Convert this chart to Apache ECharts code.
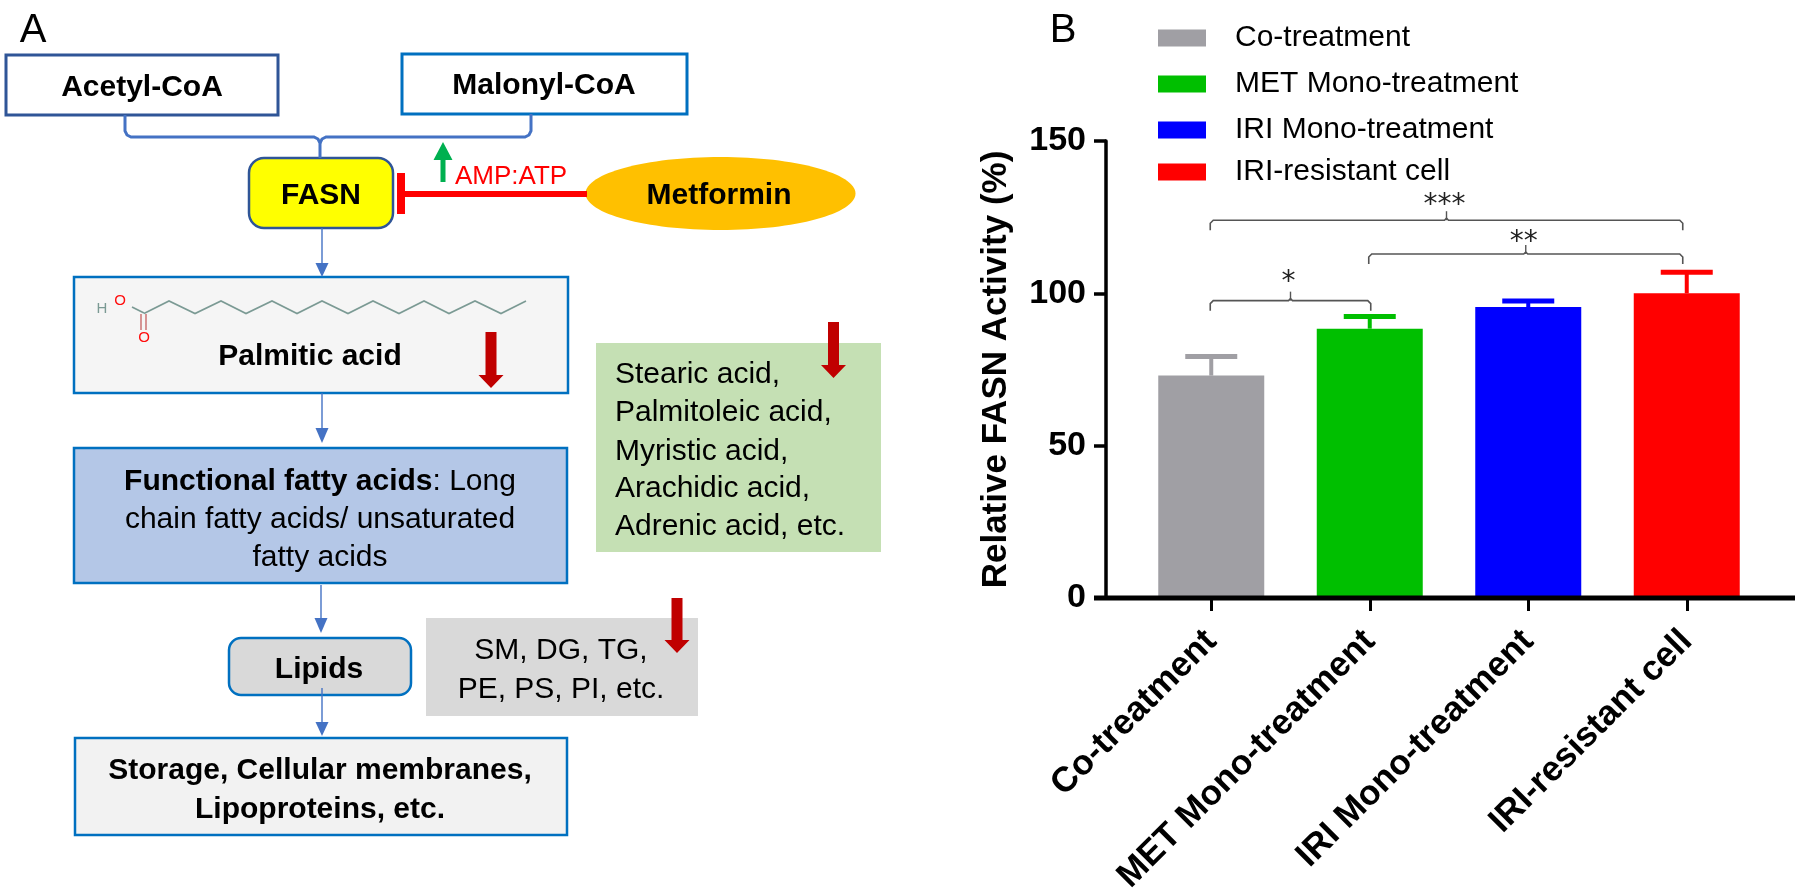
<!DOCTYPE html>
<html>
<head>
<meta charset="utf-8">
<style>html,body{margin:0;padding:0;background:#fff}#c{width:1800px;height:895px}</style>
<script src="https://cdn.jsdelivr.net/npm/echarts@6/dist/echarts.min.js"></script>
</head>
<body>
<div id="c"></div>
<script>
// ---- chart data (panel B) ----
const categories = ['Co-treatment', 'MET Mono-treatment', 'IRI Mono-treatment', 'IRI-resistant cell'];
const means = [73, 88.4, 95.5, 100];
const upperErrors = [79.3, 92.4, 97.5, 106.9];
const barColors = ['#a09fa4', '#00bf00', '#0000ff', '#ff0000'];
const yTicks = [0, 50, 100, 150];
const yTitle = 'Relative FASN Activity (%)';
const sigFrom = [0, 1, 0];
const sigTo = [1, 3, 3];
const sigLevel = [97.6, 112.9, 124];
const sigText = ['*', '**', '***'];

// ---- diagram text (panel A) ----
const greenBoxLines = ['Stearic acid,', 'Palmitoleic acid,', 'Myristic acid,', 'Arachidic acid,', 'Adrenic acid, etc.'];
const grayBoxLines = ['SM, DG, TG,', 'PE, PS, PI, etc.'];
const storageLines = ['Storage, Cellular membranes,', 'Lipoproteins, etc.'];

const FONT = '"Liberation Sans", Arial, sans-serif';
const BLUE = '#0070c0', ARROW = '#4472c4', DARKRED = '#c00000';
const g = [];

function box(x, y, w, h, fill, stroke, lw, r) {
  g.push({type: 'rect', shape: {x, y, width: w, height: h, r: r || 0},
    style: {fill, stroke: stroke || null, lineWidth: lw || 0}, z: 1});
}
function label(text, x, y, size, opts) {
  opts = opts || {};
  g.push({type: 'text', x, y: y + (size >= 26 ? 2.5 : 0), z: 5, style: {text, fill: opts.color || '#000', align: opts.align || 'center',
    verticalAlign: 'middle', font: (opts.weight || 'normal') + ' ' + size + 'px ' + FONT}});
}
function thinArrow(x, y1, y2, headLen) {
  g.push({type: 'line', shape: {x1: x, y1, x2: x, y2: y2 - 5}, style: {stroke: ARROW, lineWidth: 1.4}, z: 3});
  g.push({type: 'polygon', shape: {points: [[x - 6.5, y2 - headLen], [x + 6.5, y2 - headLen], [x, y2]]}, style: {fill: ARROW}, z: 3});
}
function downArrow(x, y1, y2) {
  g.push({type: 'polygon', z: 6, shape: {points: [[x - 5.5, y1], [x + 5.5, y1], [x + 5.5, y2 - 13], [x + 12.5, y2 - 13], [x, y2], [x - 12.5, y2 - 13], [x - 5.5, y2 - 13]]}, style: {fill: DARKRED}});
}

// Panel letters
label('A', 33, 28, 40);
label('B', 1063, 28, 40);

// Top boxes and connector
box(6, 55, 272, 60, '#fff', '#2f5597', 3);
label('Acetyl-CoA', 142, 85, 30, {weight: 'bold'});
box(402, 54, 285, 60, '#fff', BLUE, 3);
label('Malonyl-CoA', 544, 83, 30, {weight: 'bold'});
g.push({type: 'polyline', z: 2, shape: {points: [[125, 115], [125, 131], [127, 135], [131, 137], [314, 137], [318, 139], [320, 143], [320, 158]]}, style: {stroke: ARROW, lineWidth: 3, fill: null}});
g.push({type: 'polyline', z: 2, shape: {points: [[531, 114], [531, 131], [529, 135], [525, 137], [326, 137], [322, 139], [320, 143]]}, style: {stroke: ARROW, lineWidth: 3, fill: null}});

// FASN and inhibition
box(249, 158, 144, 70, '#ffff00', '#2f5597', 2.5, 15);
label('FASN', 321, 193, 30, {weight: 'bold'});
g.push({type: 'rect', z: 3, shape: {x: 397, y: 173, width: 8, height: 41}, style: {fill: '#ff0000'}});
g.push({type: 'rect', z: 3, shape: {x: 405, y: 191, width: 182, height: 6}, style: {fill: '#ff0000'}});
g.push({type: 'polygon', z: 3, shape: {points: [[440.5, 182], [445.5, 182], [445.5, 160], [452.5, 160], [443, 142], [433.5, 160], [440.5, 160]]}, style: {fill: '#00b050'}});
label('AMP:ATP', 511, 174, 26, {color: '#ff0000'});
g.push({type: 'ellipse', z: 2, shape: {cx: 720.5, cy: 193.5, rx: 135, ry: 36.5}, style: {fill: '#ffc000'}});
label('Metformin', 719, 193, 30, {weight: 'bold'});

// Palmitic acid
thinArrow(322, 228, 277, 14);
box(74, 277, 494, 116, '#f5f5f5', BLUE, 2.5);
const chainXs = [144, 169, 195, 221, 246, 272, 297, 322, 348, 373, 399, 424, 449, 475, 501, 526];
const chainPts = chainXs.map((x, i) => [x, i % 2 ? 301 : 313.5]);
g.push({type: 'polyline', z: 3, shape: {points: chainPts}, style: {stroke: '#7b9a94', lineWidth: 1.6, fill: null}});
g.push({type: 'line', z: 3, shape: {x1: 144, y1: 313, x2: 132, y2: 307}, style: {stroke: '#7b9a94', lineWidth: 1.6}});
g.push({type: 'line', z: 3, shape: {x1: 141, y1: 314, x2: 141, y2: 330}, style: {stroke: '#c86a6a', lineWidth: 1.4}});
g.push({type: 'line', z: 3, shape: {x1: 146, y1: 314, x2: 146, y2: 330}, style: {stroke: '#c86a6a', lineWidth: 1.4}});
label('H', 102, 309, 15, {color: '#7b9a94'});
label('O', 120, 301, 15, {color: '#ff0d0d'});
label('O', 144, 338, 15, {color: '#ff0d0d'});
label('Palmitic acid', 310, 354, 30, {weight: 'bold'});
downArrow(491, 332, 388);

// Green box
box(596, 343, 285, 209, '#c5e0b4');
const greenYs = [372, 410, 449, 486, 524];
greenBoxLines.forEach((t, i) => label(t, 615, greenYs[i], 30, {align: 'left'}));
downArrow(833.5, 322, 378);

// Functional fatty acids
thinArrow(322, 393, 443, 15);
box(74, 448, 493, 135, '#b4c7e7', BLUE, 2.5);
g.push({type: 'text', x: 320, y: 481.5, z: 5, style: {
  rich: {b: {font: 'bold 30px ' + FONT, fill: '#000'}, r: {font: '30px ' + FONT, fill: '#000'}},
  text: '{b|Functional fatty acids}{r|: Long}', align: 'center', verticalAlign: 'middle'}});
label('chain fatty acids/ unsaturated', 320, 517, 30);
label('fatty acids', 320, 555, 30);

// Lipids
thinArrow(321, 585, 633, 15);
box(229, 638, 182, 57, '#d9d9d9', BLUE, 2.5, 12);
label('Lipids', 319, 667, 30, {weight: 'bold'});
box(426, 618, 272, 98, '#d9d9d9');
label(grayBoxLines[0], 561, 648, 30);
label(grayBoxLines[1], 561, 687, 30);
downArrow(677, 598, 653);

// Storage
g.push({type: 'line', z: 6, shape: {x1: 322, y1: 688, x2: 322, y2: 730}, style: {stroke: ARROW, lineWidth: 1.4}});
g.push({type: 'polygon', z: 6, shape: {points: [[315.5, 722], [328.5, 722], [322, 736]]}, style: {fill: ARROW}});
box(75, 738, 492, 97, '#f2f2f2', BLUE, 2.5);
label(storageLines[0], 320, 768, 30, {weight: 'bold'});
label(storageLines[1], 320, 807, 30, {weight: 'bold'});

// Extended baseline of the Prism-style x axis
g.push({type: 'rect', z: 8, shape: {x: 1094, y: 595.5, width: 701, height: 5}, style: {fill: '#000'}});

const barSeries = categories.map((name, i) => ({
  name, type: 'bar', barWidth: 106, barGap: '-100%', z: 2,
  itemStyle: {color: barColors[i]},
  data: categories.map((c, j) => (j === i ? means[i] : '-'))
}));

const errorSeries = {
  type: 'custom', z: 3, silent: true,
  data: categories.map((c, i) => [i, means[i], upperErrors[i]]),
  encode: {x: 0, y: [1, 2]},
  renderItem(params, api) {
    const i = api.value(0);
    const base = api.coord([i, api.value(1)]);
    const top = api.coord([i, api.value(2)]);
    const style = {fill: barColors[i]};
    return {type: 'group', children: [
      {type: 'rect', shape: {x: top[0] - 2, y: top[1], width: 4, height: base[1] - top[1]}, style},
      {type: 'rect', shape: {x: top[0] - 26, y: top[1] - 2.5, width: 52, height: 5}, style}
    ]};
  }
};

const bracketSeries = {
  type: 'custom', z: 4, silent: true,
  data: sigText.map((t, i) => [sigFrom[i], sigTo[i], sigLevel[i], t]),
  encode: {x: [0, 1], y: 2},
  renderItem(params, api) {
    const a = api.coord([api.value(0), api.value(2)]);
    const b = api.coord([api.value(1), api.value(2)]);
    const x1 = a[0] - 1, x2 = b[0] + (api.value(1) === 3 ? -4 : 1), y = a[1], mid = (x1 + x2) / 2;
    const stroke = '#555';
    const starGap = [18, 11, 14][params.dataIndex];
    return {type: 'group', children: [
      {type: 'polyline', shape: {points: [[x1, y + 10], [x1, y + 3], [x1 + 3, y], [mid - 2, y], [mid, y - 2], [mid + 2, y], [x2 - 3, y], [x2, y + 3], [x2, y + 10]]}, style: {stroke, lineWidth: 1.6, fill: null}},
      {type: 'line', shape: {x1: mid, y1: y - 9, x2: mid, y2: y}, style: {stroke, lineWidth: 1.4}},
      {type: 'text', x: mid - 2, y: y - starGap, style: {text: sigText[params.dataIndex], align: 'center', verticalAlign: 'middle', font: '28px "DejaVu Sans"', fill: '#222'}}
    ]};
  }
};

const legendTops = [23, 69, 115, 157];
const option = {
  animation: false,
  backgroundColor: '#fff',
  textStyle: {fontFamily: FONT},
  grid: {left: 1132, width: 634, top: 141, height: 457, containLabel: false, outerBoundsMode: 'none'},
  legend: categories.map((name, i) => ({
    data: [name], orient: 'vertical', left: 1158, top: legendTops[i], padding: 0,
    itemWidth: 48, itemHeight: 17, icon: 'rect', selectedMode: false,
    textStyle: {fontFamily: FONT, fontSize: 30, color: '#000', lineHeight: 30, padding: [0, 0, 0, 24]}
  })),
  xAxis: {
    type: 'category', data: categories,
    axisLine: {show: false},
    axisTick: {show: true, alignWithLabel: true, length: 13, lineStyle: {color: '#000', width: 3}},
    axisLabel: {rotate: 45, margin: 38, interval: 0, fontFamily: FONT, fontSize: 35, fontWeight: 'bold', color: '#000'}
  },
  yAxis: {
    type: 'value', min: 0, max: 150, interval: 50, offset: 26,
    name: yTitle, nameLocation: 'middle', nameGap: 92, nameRotate: 90, nameMoveOverlap: false,
    nameTextStyle: {fontFamily: FONT, fontSize: 35, fontWeight: 'bold', color: '#000'},
    axisLine: {show: true, lineStyle: {color: '#000', width: 3.5}},
    axisTick: {show: true, length: 12, lineStyle: {color: '#000', width: 3.5}},
    axisLabel: {margin: 20, fontFamily: FONT, fontSize: 34, fontWeight: 'bold', color: '#000',
      formatter: v => String(yTicks[yTicks.indexOf(v)])},
    splitLine: {show: false}
  },
  series: barSeries.concat([errorSeries, bracketSeries]),
  graphic: {elements: g}
};
echarts.init(document.getElementById('c'), null, {renderer: 'canvas'}).setOption(option);
</script>
</body>
</html>
